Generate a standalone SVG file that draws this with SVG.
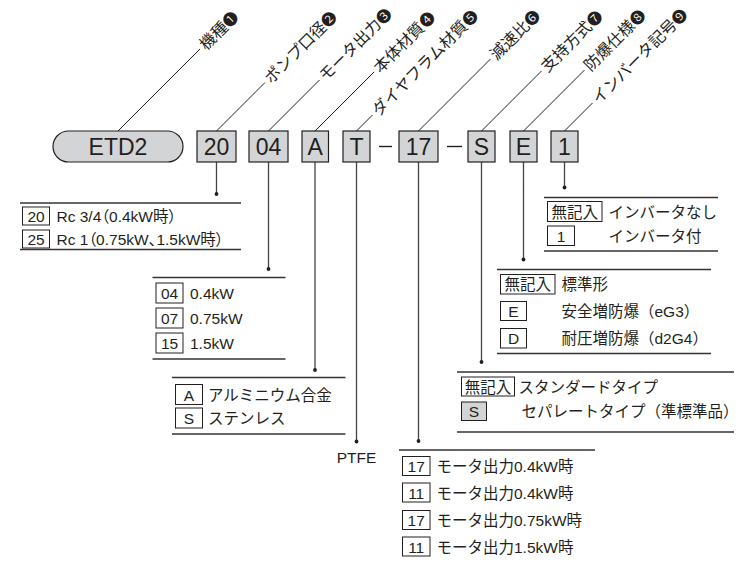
<svg xmlns="http://www.w3.org/2000/svg" width="747" height="562" viewBox="0 0 747 562">
<style>
text{font-family:"Liberation Sans","Noto Sans CJK JP",sans-serif;fill:#231f20}
.box{fill:#d3d4d6;stroke:#231f20;stroke-width:1.2}
.lbox{fill:#fff;stroke:#231f20;stroke-width:1}
.gbox{fill:#d3d4d6;stroke:#231f20;stroke-width:1}
.code{font-size:23px;text-anchor:middle;dominant-baseline:central}
.lab{font-size:16px;font-family:"Noto Sans CJK JP","Liberation Sans",sans-serif;dominant-baseline:central}
.num{font-size:15px}
.t{font-size:15.5px;dominant-baseline:central}
.p{font-feature-settings:"palt"}
.bt{font-size:15.5px;dominant-baseline:central;text-anchor:middle}
.rule{stroke:#333;stroke-width:1.3}
.lead{stroke:#231f20;stroke-width:1;fill:none}
.vert{stroke:#444;stroke-width:1.3}
.dot{fill:#231f20}
</style>
<rect width="747" height="562" fill="#fff"/>

<g id="connectors">
  <path class="lead" d="M118,131L200,49M216.5,131L265,82.5M268.5,131L319.5,80M315,131L374,72M356.5,131L372.5,115M418.5,131L490.5,59M481.5,131L541.5,71M523.5,131L584.5,70M564.5,131L592.5,103"/>
  <path class="vert" d="M216.5,162V194M268.5,162V269M315,162V370M356.5,162V441.5M418.5,162V441M481.5,162V362M523.5,162V259.5M564.5,162V187.5"/>
  <g class="dot">
    <circle cx="216.5" cy="194" r="1.9"/>
    <circle cx="268.5" cy="269" r="1.9"/>
    <circle cx="315" cy="370" r="1.9"/>
    <circle cx="356.5" cy="441.5" r="1.9"/>
    <circle cx="418.5" cy="441" r="1.9"/>
    <circle cx="481.5" cy="362" r="1.9"/>
    <circle cx="523.5" cy="259.5" r="1.9"/>
    <circle cx="564.5" cy="187.5" r="1.9"/>
  </g>
</g>

<g id="labels">
  <text class="lab" transform="translate(200,49) rotate(-45)" x="3" y="-1">機種<tspan class="num">❶</tspan></text>
  <text class="lab" transform="translate(265,82.5) rotate(-45)" x="3" y="-1">ポンプ口径<tspan class="num">❷</tspan></text>
  <text class="lab" transform="translate(319.5,80) rotate(-45)" x="3" y="-1">モータ出力<tspan class="num">❸</tspan></text>
  <text class="lab" transform="translate(374,72) rotate(-45)" x="3" y="-1">本体材質<tspan class="num">❹</tspan></text>
  <text class="lab" transform="translate(372.5,115) rotate(-45)" x="3" y="-1">ダイヤフラム材質<tspan class="num">❺</tspan></text>
  <text class="lab" transform="translate(490.5,59) rotate(-45)" x="3" y="-1">減速比<tspan class="num">❻</tspan></text>
  <text class="lab" transform="translate(541.5,71) rotate(-45)" x="3" y="-1">支持方式<tspan class="num">❼</tspan></text>
  <text class="lab" transform="translate(584.5,70) rotate(-45)" x="3" y="-1">防爆仕様<tspan class="num">❽</tspan></text>
  <text class="lab" transform="translate(592.5,103) rotate(-45)" x="3" y="-1">インバータ記号<tspan class="num">❾</tspan></text>
</g>

<g id="code-row">
  <g id="node-etd2"><rect class="box" x="53" y="131" width="130" height="31" rx="15.5"/><text class="code" x="118" y="147">ETD2</text></g>
  <g id="node-20"><rect class="box" x="197" y="131" width="39" height="31"/><text class="code" x="216.5" y="147">20</text></g>
  <g id="node-04"><rect class="box" x="249" y="131" width="39" height="31"/><text class="code" x="268.5" y="147">04</text></g>
  <g id="node-A"><rect class="box" x="302" y="131" width="26.5" height="31"/><text class="code" x="315.2" y="147">A</text></g>
  <g id="node-T"><rect class="box" x="343" y="131" width="27" height="31"/><text class="code" x="356.5" y="147">T</text></g>
  <line x1="379" y1="146.5" x2="392" y2="146.5" stroke="#231f20" stroke-width="1.4"/>
  <g id="node-17"><rect class="box" x="399" y="131" width="39" height="31"/><text class="code" x="418.5" y="147">17</text></g>
  <line x1="447" y1="146.5" x2="462" y2="146.5" stroke="#231f20" stroke-width="1.4"/>
  <g id="node-S"><rect class="box" x="468" y="131" width="27" height="31"/><text class="code" x="481.5" y="147">S</text></g>
  <g id="node-E"><rect class="box" x="510" y="131" width="27" height="31"/><text class="code" x="523.5" y="147">E</text></g>
  <g id="node-1"><rect class="box" x="551" y="131" width="27" height="31"/><text class="code" x="564.5" y="147">1</text></g>
</g>

<g id="legend-port">
  <line class="rule" x1="20" y1="203" x2="241" y2="203"/>
  <rect class="lbox" x="22.5" y="207" width="27" height="18"/><text class="bt" x="36" y="216.5">20</text>
  <text class="t p" x="56.5" y="216.5">Rc 3/4（0.4kW時）</text>
  <rect class="lbox" x="22.5" y="230" width="27" height="18"/><text class="bt" x="36" y="239.5">25</text>
  <text class="t p" x="56.5" y="239.5">Rc 1（0.75kW、1.5kW時）</text>
  <line class="rule" x1="20" y1="249.5" x2="241" y2="249.5"/>
</g>

<g id="legend-motor">
  <line class="rule" x1="152.5" y1="277.5" x2="285.5" y2="277.5"/>
  <rect class="lbox" x="156" y="283" width="27" height="20"/><text class="bt" x="169.5" y="293.5">04</text>
  <text class="t" x="190" y="293.5">0.4kW</text>
  <rect class="lbox" x="156" y="308" width="27" height="20"/><text class="bt" x="169.5" y="318.5">07</text>
  <text class="t" x="190" y="318.5">0.75kW</text>
  <rect class="lbox" x="156" y="333" width="27" height="20"/><text class="bt" x="169.5" y="343.5">15</text>
  <text class="t" x="190" y="343.5">1.5kW</text>
  <line class="rule" x1="152.5" y1="359" x2="285.5" y2="359"/>
</g>

<g id="legend-body">
  <line class="rule" x1="172" y1="377.5" x2="345.5" y2="377.5"/>
  <rect class="lbox" x="175.5" y="384.5" width="27" height="20"/><text class="bt" x="189" y="395">A</text>
  <text class="t" x="208" y="395">アルミニウム合金</text>
  <rect class="lbox" x="175.5" y="408" width="27" height="20"/><text class="bt" x="189" y="418.5">S</text>
  <text class="t" x="208" y="418.5">ステンレス</text>
  <line class="rule" x1="172" y1="434" x2="345.5" y2="434"/>
</g>

<g id="legend-diaphragm">
  <text class="bt" x="356.5" y="457.5">PTFE</text>
</g>

<g id="legend-ratio">
  <line class="rule" x1="399" y1="450" x2="595" y2="450"/>
  <rect class="lbox" x="402.5" y="456.5" width="27.5" height="19"/><text class="bt" x="416.2" y="466.5">17</text>
  <text class="t" x="436.5" y="466.5">モータ出力0.4kW時</text>
  <rect class="lbox" x="402.5" y="483" width="27.5" height="19"/><text class="bt" x="416.2" y="493">11</text>
  <text class="t" x="436.5" y="493">モータ出力0.4kW時</text>
  <rect class="lbox" x="402.5" y="510.5" width="27.5" height="19"/><text class="bt" x="416.2" y="520.5">17</text>
  <text class="t" x="436.5" y="520.5">モータ出力0.75kW時</text>
  <rect class="lbox" x="402.5" y="537" width="27.5" height="19"/><text class="bt" x="416.2" y="547">11</text>
  <text class="t" x="436.5" y="547">モータ出力1.5kW時</text>
</g>

<g id="legend-support">
  <line class="rule" x1="457" y1="372" x2="734" y2="372"/>
  <rect class="lbox" x="461.5" y="377" width="53" height="19"/><text class="bt" x="488" y="387">無記入</text>
  <text class="t" x="518.5" y="387">スタンダードタイプ</text>
  <rect class="gbox" x="461.5" y="402" width="25" height="18.5"/><text class="bt" x="474" y="411.5">S</text>
  <text class="t" x="521.5" y="411.5">セパレートタイプ（準標準品）</text>
  <line class="rule" x1="457" y1="432" x2="734" y2="432"/>
</g>

<g id="legend-explosion">
  <line class="rule" x1="497" y1="269.5" x2="711" y2="269.5"/>
  <rect class="lbox" x="500.5" y="274.5" width="54.5" height="19.5"/><text class="bt" x="527.7" y="284.5">無記入</text>
  <text class="t" x="561.5" y="284.5">標準形</text>
  <rect class="lbox" x="500.5" y="301.5" width="26" height="19"/><text class="bt" x="513.5" y="311.5">E</text>
  <text class="t" x="561.5" y="311.5">安全増防爆（eG3）</text>
  <rect class="lbox" x="500.5" y="328.5" width="26" height="19.5"/><text class="bt" x="513.5" y="338.5">D</text>
  <text class="t" x="561.5" y="338.5">耐圧増防爆（d2G4）</text>
  <line class="rule" x1="497" y1="353.5" x2="711" y2="353.5"/>
</g>

<g id="legend-inverter">
  <line class="rule" x1="544" y1="197.5" x2="718" y2="197.5"/>
  <rect class="lbox" x="547.5" y="201.5" width="54.5" height="20"/><text class="bt" x="574.7" y="212">無記入</text>
  <text class="t" x="608.5" y="212">インバータなし</text>
  <rect class="lbox" x="547.5" y="226" width="27" height="19.5"/><text class="bt" x="561" y="236.5">1</text>
  <text class="t" x="608.5" y="236.5">インバータ付</text>
  <line class="rule" x1="544" y1="251" x2="718" y2="251"/>
</g>
</svg>
